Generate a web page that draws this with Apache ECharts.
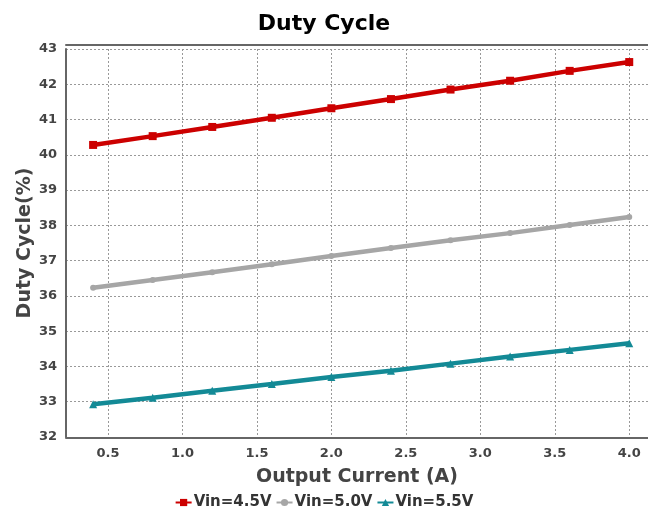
<!DOCTYPE html>
<html><head><meta charset="utf-8">
<script src="https://cdn.jsdelivr.net/npm/echarts@6/dist/echarts.min.js"></script>
<style>html,body{margin:0;padding:0;background:#fff}#c{width:648px;height:516px}</style>
</head><body><div id="c"></div>
<script>
const current = [0.4, 0.8, 1.2, 1.6, 2.0, 2.4, 2.8, 3.2, 3.6, 4.0];
const vin45 = [40.28, 40.53, 40.79, 41.05, 41.32, 41.58, 41.85, 42.10, 42.38, 42.63];
const vin50 = [36.23, 36.45, 36.67, 36.90, 37.13, 37.36, 37.58, 37.78, 38.01, 38.24];
const vin55 = [32.93, 33.11, 33.31, 33.50, 33.70, 33.88, 34.08, 34.28, 34.47, 34.66];
const xTicks = [0.5, 1.0, 1.5, 2.0, 2.5, 3.0, 3.5, 4.0];
const seriesNames = ['Vin=4.5V', 'Vin=5.0V', 'Vin=5.5V'];
const colors = ['#cc0000', '#a6a6a6', '#138a96'];
const symbols = ['rect', 'circle', 'triangle'];

const chart = echarts.init(document.getElementById('c'), null, {renderer: 'canvas'});
const font = 'DejaVu Sans';
const gridLine = {show: true, lineStyle: {color: '#999', type: [2, 2], width: 1}};
const pair = (ys) => current.map((x, i) => [x, ys[i]]);
const allData = [vin45, vin50, vin55];

chart.setOption({
  animation: false,
  title: {text: 'Duty Cycle', left: 'center', top: 8,
    textStyle: {fontFamily: font, fontWeight: 'bold', fontSize: 22, color: '#000'}},
  grid: {left: 66, right: 0, top: 49, bottom: 79, containLabel: false},
  legend: {bottom: 1, left: 'center', itemWidth: 16, itemHeight: 9, itemGap: 4,
    data: seriesNames,
    textStyle: {fontFamily: font, fontWeight: 'bold', fontSize: 15, color: '#333', padding: [0, 0, 0, -3]}},
  xAxis: [{
    type: 'value', min: 0.218, max: 4.126,
    name: 'Output Current (A)', nameLocation: 'middle', nameGap: 30,
    nameTextStyle: {fontFamily: font, fontWeight: 'bold', fontSize: 19, color: '#444'},
    offset: 1,
    axisLine: {show: true, lineStyle: {color: '#666', width: 2}},
    axisTick: {show: false, customValues: xTicks},
    axisLabel: {customValues: xTicks, fontFamily: font, fontWeight: 'bold', fontSize: 13, color: '#444', margin: 9,
      formatter: v => v.toFixed(1)},
    splitLine: gridLine
  }, {
    type: 'value', position: 'top', min: 0.218, max: 4.126, offset: 4,
    axisLine: {show: true, lineStyle: {color: '#666', width: 2}},
    axisTick: {show: false}, axisLabel: {show: false}, splitLine: {show: false}
  }],
  yAxis: {
    type: 'value', min: 32, max: 43, interval: 1,
    name: 'Duty Cycle(%)', nameLocation: 'middle', nameGap: 31, nameMoveOverlap: false,
    nameTextStyle: {fontFamily: font, fontWeight: 'bold', fontSize: 19, color: '#444'},
    axisLine: {show: true, lineStyle: {color: '#666', width: 2}},
    axisTick: {show: false},
    axisLabel: {fontFamily: font, fontWeight: 'bold', fontSize: 13, color: '#444', margin: 9},
    splitLine: gridLine
  },
  series: seriesNames.map((n, i) => ({
    name: n, type: 'line', data: pair(allData[i]),
    symbol: symbols[i], symbolSize: i === 1 ? 6 : 8, showSymbol: true,
    itemStyle: {color: colors[i]},
    lineStyle: {color: colors[i], width: 4.5}
  }))
});
</script></body></html>
